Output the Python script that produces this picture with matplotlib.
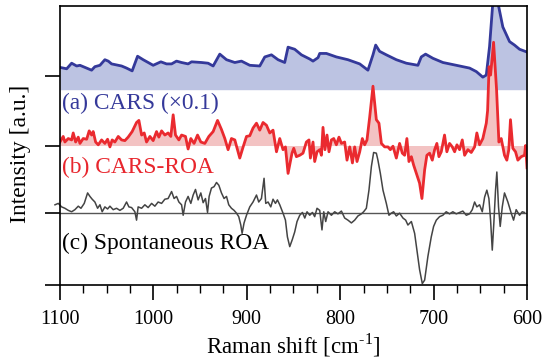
import numpy as np
import matplotlib
matplotlib.use("Agg")
import matplotlib.pyplot as plt
from matplotlib.ticker import MultipleLocator

plt.rcParams['font.family'] = ['Liberation Serif', 'DejaVu Serif']
plt.rcParams['mathtext.fontset'] = 'custom'
plt.rcParams['mathtext.rm'] = 'Liberation Serif'

# (a) CARS (x0.1), offset trace
cars_w = [1100.0, 1092.8, 1087.5, 1082.1, 1078.6, 1066.1, 1062.6, 1057.2, 1051.9, 1048.3,
          1044.7, 1034.0, 1028.7, 1022.7, 1016.9, 1010.9, 1000.2, 992.0, 985.9, 980.5,
          975.2, 969.8, 962.8, 959.1, 948.4, 941.4, 936.0, 928.9, 921.7, 912.8,
          905.7, 896.8, 886.1, 880.7, 873.6, 866.5, 859.4, 855.8, 848.7, 841.5,
          832.6, 829.1, 823.7, 821.9, 814.8, 804.1, 791.7, 779.1, 770.3, 764.9,
          762.0, 757.8, 750.6, 739.9, 729.2, 716.8, 713.2, 708.6, 700.7, 690.0,
          675.7, 661.5, 654.3, 647.3, 643.6, 640.1, 636.6, 633.7, 631.2, 625.9,
          618.7, 613.4, 608.0, 600.0]
cars_i = [3.12, 3.10, 3.18, 3.14, 3.15, 3.08, 3.13, 3.15, 3.23, 3.21,
          3.17, 3.14, 3.11, 3.07, 3.28, 3.23, 3.15, 3.20, 3.17, 3.17,
          3.21, 3.19, 3.17, 3.20, 3.19, 3.18, 3.14, 3.31, 3.23, 3.19,
          3.21, 3.15, 3.14, 3.27, 3.30, 3.23, 3.19, 3.41, 3.38, 3.30,
          3.24, 3.21, 3.26, 3.32, 3.32, 3.27, 3.23, 3.17, 3.08, 3.30,
          3.44, 3.35, 3.30, 3.23, 3.18, 3.15, 3.27, 3.31, 3.25, 3.19,
          3.15, 3.11, 3.06, 2.98, 3.01, 3.42, 4.05, 4.30, 4.05, 3.70,
          3.49, 3.44, 3.38, 3.34]
CARS_BASE = 2.8

# (b) CARS-ROA
roa_w = [1100.0, 1096.5, 1094.7, 1091.1, 1087.5, 1085.8, 1083.2, 1080.4, 1078.6, 1075.1,
         1071.4, 1068.7, 1066.1, 1064.4, 1061.8, 1059.0, 1055.4, 1051.9, 1049.0, 1046.5,
         1044.1, 1041.2, 1037.6, 1034.0, 1030.5, 1027.0, 1022.7, 1018.0, 1015.5, 1012.6,
         1009.8, 1007.3, 1003.7, 1000.2, 996.6, 994.1, 991.2, 987.7, 984.2, 981.3,
         978.8, 976.3, 972.7, 969.8, 965.6, 962.8, 959.9, 956.4, 952.7, 949.2,
         944.9, 940.6, 936.0, 931.3, 927.1, 923.5, 920.0, 916.4, 912.8, 907.5,
         903.9, 900.3, 896.8, 893.3, 889.6, 886.1, 882.6, 878.9, 875.4, 871.9,
         868.2, 864.7, 861.2, 858.6, 855.8, 851.6, 849.7, 846.9, 843.3, 839.8,
         836.2, 833.4, 831.9, 829.1, 827.3, 824.8, 821.9, 820.1, 818.4, 816.3,
         814.1, 812.0, 809.4, 806.9, 804.1, 801.3, 798.7, 795.2, 792.7, 789.8,
         786.9, 784.5, 782.0, 779.1, 776.3, 773.8, 771.3, 768.4, 764.9, 761.3,
         758.5, 755.9, 752.4, 748.9, 746.3, 743.5, 739.9, 736.4, 733.5, 731.0,
         728.6, 726.4, 723.8, 721.4, 718.5, 715.0, 712.5, 709.6, 707.2, 704.3,
         701.4, 698.9, 696.5, 694.3, 691.8, 688.3, 685.8, 682.9, 680.0, 677.5,
         675.0, 672.2, 669.3, 666.8, 663.3, 659.7, 656.1, 653.7, 650.8, 647.3,
         643.6, 642.2, 640.6, 639.0, 635.8, 632.6, 630.1, 627.6, 624.1, 621.6,
         619.5, 617.7, 615.2, 612.3, 609.8, 606.2, 602.7, 601.5, 600.0]
roa_i = [2.05, 2.13, 2.05, 2.10, 2.08, 2.18, 2.05, 2.12, 2.03, 2.10,
         2.09, 2.21, 2.15, 2.20, 2.05, 2.01, 2.08, 2.03, 2.09, 1.98,
         2.08, 2.05, 2.13, 2.08, 2.07, 2.12, 2.20, 2.33, 2.36, 2.15,
         2.18, 2.05, 2.13, 2.07, 2.20, 2.12, 2.21, 2.15, 2.18, 2.13,
         2.44, 2.15, 2.08, 2.15, 2.13, 1.95, 2.10, 2.03, 2.15, 2.05,
         2.03, 2.13, 2.20, 2.36, 2.23, 2.10, 1.94, 2.10, 2.08, 1.82,
         1.98, 2.13, 2.14, 2.25, 2.32, 2.22, 2.33, 2.29, 2.18, 2.22,
         1.91, 2.10, 1.94, 1.98, 1.60, 1.89, 1.96, 1.84, 1.86, 1.89,
         2.05, 2.08, 1.82, 2.05, 1.77, 1.91, 1.94, 1.86, 2.26, 1.94,
         2.15, 1.91, 2.08, 2.10, 2.01, 2.12, 2.03, 2.05, 1.79, 1.98,
         1.75, 1.98, 1.77, 1.91, 2.10, 2.01, 2.08, 2.41, 2.85, 2.37,
         2.32, 2.03, 1.98, 1.98, 1.94, 1.99, 1.82, 2.03, 1.89, 1.86,
         2.10, 1.77, 1.84, 1.72, 1.60, 1.46, 1.24, 1.65, 1.86, 1.89,
         1.79, 1.94, 2.03, 1.84, 1.91, 2.15, 1.91, 2.03, 1.98, 1.91,
         2.01, 1.94, 2.08, 1.86, 1.94, 1.90, 1.98, 2.18, 2.01, 2.10,
         2.32, 2.50, 3.13, 3.01, 3.48, 2.80, 2.05, 2.10, 1.86, 1.79,
         1.94, 2.37, 1.96, 1.91, 1.79, 1.84, 1.86, 2.00, 1.68]
ROA_BASE = 2.0

# (c) Spontaneous ROA
spont_w = [1105.3, 1101.8, 1098.2, 1094.7, 1091.1, 1087.5, 1084.0, 1080.4, 1077.5, 1074.0,
           1070.4, 1067.9, 1065.5, 1062.6, 1059.7, 1057.2, 1054.8, 1051.9, 1049.0, 1046.5,
           1043.0, 1039.4, 1035.8, 1032.3, 1028.7, 1026.2, 1023.3, 1019.8, 1018.0, 1016.3,
           1012.6, 1009.1, 1005.6, 1001.9, 998.4, 994.9, 991.2, 987.7, 984.2, 980.5,
           977.8, 975.2, 972.7, 969.8, 968.1, 965.6, 962.8, 959.9, 957.4, 954.9,
           952.1, 949.2, 946.7, 944.2, 942.0, 940.3, 937.8, 935.0, 932.4, 929.9,
           927.1, 924.3, 921.7, 919.3, 916.4, 913.6, 911.0, 908.6, 906.4, 905.0,
           902.9, 900.3, 896.8, 893.3, 889.6, 887.2, 884.3, 881.5, 879.7, 877.2,
           874.3, 871.9, 869.3, 867.2, 864.7, 861.2, 858.6, 856.5, 854.0, 851.3,
           848.7, 846.2, 843.3, 840.4, 837.9, 835.5, 832.6, 829.7, 827.3, 824.8,
           821.9, 819.5, 817.6, 815.5, 813.0, 809.4, 805.9, 802.4, 798.7, 795.2,
           791.7, 788.0, 784.5, 781.0, 777.3, 774.9, 772.0, 769.2, 766.6, 764.2,
           761.3, 759.6, 757.0, 754.2, 750.6, 747.8, 745.3, 742.8, 739.9, 736.4,
           732.8, 729.9, 727.5, 723.8, 720.3, 717.8, 715.0, 712.1, 709.6, 706.1,
           702.5, 700.0, 697.1, 693.6, 690.1, 686.5, 682.9, 679.4, 675.7, 672.2,
           668.7, 665.0, 661.5, 658.6, 656.1, 653.7, 650.8, 647.9, 645.4, 643.0,
           640.8, 639.0, 637.2, 635.5, 633.7, 632.3, 630.5, 628.7, 626.5, 624.1,
           620.5, 616.9, 614.4, 611.6, 608.0, 605.1, 602.7]
spont_i = [1.15, 1.17, 1.12, 1.10, 1.07, 1.05, 1.08, 1.13, 1.10, 1.17,
           1.32, 1.27, 1.23, 1.19, 1.10, 1.15, 1.05, 1.12, 1.09, 1.13,
           1.08, 1.10, 1.07, 1.10, 1.19, 1.12, 1.11, 1.05, 0.93, 1.12,
           1.10, 1.15, 1.11, 1.17, 1.13, 1.19, 1.17, 1.23, 1.24, 1.34,
           1.24, 1.27, 1.19, 1.15, 1.00, 1.19, 1.27, 1.17, 1.29, 1.37,
           1.22, 1.32, 1.18, 1.24, 1.04, 1.27, 1.39, 1.41, 1.47, 1.43,
           1.32, 1.24, 1.27, 1.15, 1.10, 1.07, 1.03, 0.98, 0.86, 0.74,
           0.89, 1.00, 1.12, 1.19, 1.29, 1.19, 1.24, 1.53, 1.17, 1.19,
           1.12, 1.23, 1.17, 1.22, 1.15, 1.03, 0.93, 0.69, 0.55, 0.65,
           0.76, 0.91, 1.00, 1.04, 0.96, 1.05, 1.00, 1.04, 0.98, 1.10,
           1.07, 0.79, 1.05, 0.91, 1.05, 1.00, 1.05, 1.02, 1.06, 0.96,
           0.93, 0.89, 0.93, 0.99, 1.02, 1.05, 1.10, 1.36, 1.70, 1.90,
           1.89, 1.79, 1.60, 1.36, 1.17, 1.00, 1.03, 1.05, 0.99, 1.03,
           0.96, 0.93, 0.86, 0.91, 0.74, 0.50, 0.22, 0.02, 0.07, 0.41,
           0.69, 0.84, 0.93, 0.98, 1.00, 1.05, 1.02, 1.05, 1.02, 1.04,
           1.06, 1.00, 1.02, 1.08, 1.19, 1.12, 1.15, 1.05, 1.26, 1.36,
           1.24, 0.93, 0.50, 0.89, 1.36, 1.62, 1.12, 0.84, 1.12, 1.32,
           1.19, 1.03, 0.93, 1.08, 1.00, 1.05, 1.04]
SPONT_BASE = 1.03

fig = plt.figure(figsize=(5.45, 3.62), dpi=100)
ax = fig.add_axes([0.110, 0.2127, 0.857, 0.7707])

ax.fill_between(cars_w, CARS_BASE, cars_i, color='#bcc3e2', lw=0)
ax.plot(cars_w, cars_i, color='#34399a', lw=2.0)

ax.fill_between(roa_w, ROA_BASE, roa_i, color='#f3c3c3', lw=0)
ax.plot(roa_w, roa_i, color='#ea2a2f', lw=2.0)

ax.axhline(SPONT_BASE, color='#555555', lw=1.0)
ax.plot(spont_w, spont_i, color='#444444', lw=1.1, clip_on=False)

ax.text(1098, 2.6, '(a) CARS (\u00d70.1)', color='#35399a', fontsize=16.8, va='center')
ax.text(1098, 1.68, '(b) CARS-ROA', color='#e8262d', fontsize=16.8, va='center')
ax.text(1098, 0.6, '(c) Spontaneous ROA', color='black', fontsize=16.8, va='center')

ax.set_xlim(1100, 600)
ax.set_ylim(0, 4)
ax.xaxis.set_major_locator(MultipleLocator(100))
ax.xaxis.set_minor_locator(MultipleLocator(25))
ax.set_yticks([0, SPONT_BASE, ROA_BASE, 3])
ax.set_yticklabels([])
ax.tick_params(axis='x', which='major', direction='out', length=10.8, width=1.2, labelsize=14.5, pad=7)
ax.tick_params(axis='x', which='minor', direction='out', length=5.8, width=1.0)
ax.tick_params(axis='y', direction='out', length=10.8, width=1.2)
for s in ax.spines.values():
    s.set_linewidth(1.2)

ax.set_xlabel('Raman shift [cm$^{\\mathrm{\u2010}1}$]', fontsize=16.5, labelpad=2)
ax.set_ylabel('Intensity [a.u.]', fontsize=17)
ax.yaxis.set_label_coords(-0.063, 0.47)

fig.savefig('out.png', dpi=100)
